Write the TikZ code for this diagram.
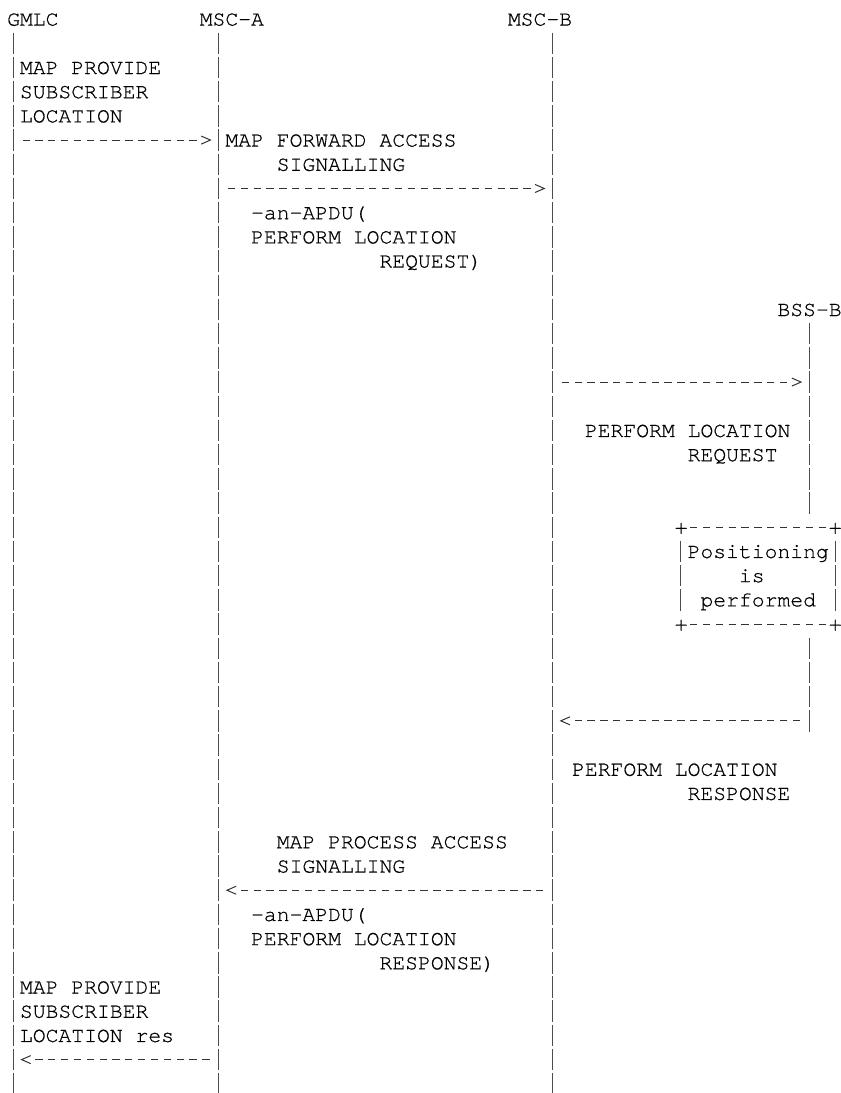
\documentclass[tikz,border=0pt]{standalone}
\usepackage{fontspec}
\newfontfamily\courierfont[FakeBold=0.6]{TeX Gyre Cursor}
\usetikzlibrary{calc}

\begin{document}
\begin{tikzpicture}[x=9.63pt, y=-18.15pt,
    lbl/.style={anchor=base west, inner sep=0pt, yshift=-4.9pt,
        font=\courierfont\fontsize{16.05}{18}\selectfont},
    bar/.style={draw=black!70, line width=0.75pt, dash pattern=on 16.1pt off 2.05pt,
        shorten <=-8.05pt, shorten >=-8.05pt},
    msg/.style={draw=black!80, line width=0.75pt, dash pattern=on 5.48pt off 4.15pt,
        shorten <=6.9pt, shorten >=16.53pt},
    boxedge/.style={msg, shorten >=6.9pt},
    head/.style={draw=black!80, line width=0.75pt, line join=miter}]

    % Frame (one unit = one character cell)
    \useasboundingbox (-1.036,-0.789) rectangle (64.46,44.38);

    % --- Entities ---
    \def\xg{0}   % GMLC
    \def\xa{16}  % MSC-A
    \def\xb{42}  % MSC-B
    \def\xs{62}  % BSS-B
    \node[lbl] (gmlc) at (-0.5,0) {GMLC};
    \node[lbl] (msca) at (14.5,0) {MSC-A};
    \node[lbl] (mscb) at (38.5,0) {MSC-B};
    \node[lbl] (bssb) at (59.5,12) {BSS-B};

    % --- Lifelines ---
    \coordinate (gmlc-top) at (\xg,1);  \coordinate (gmlc-end) at (\xg,44);
    \coordinate (msca-top) at (\xa,1);  \coordinate (msca-end) at (\xa,44);
    \coordinate (mscb-top) at (\xb,1);  \coordinate (mscb-end) at (\xb,44);
    \coordinate (bssb-top) at (\xs,13); \coordinate (bssb-20) at (\xs,20);
    \coordinate (bssb-26) at (\xs,26);  \coordinate (bssb-end) at (\xs,29);
    \draw[bar] (gmlc-top) -- (gmlc-end);
    \draw[bar] (msca-top) -- (msca-end);
    \draw[bar] (mscb-top) -- (mscb-end);
    \draw[bar] (bssb-top) -- (bssb-20);
    \draw[bar] (bssb-26) -- (bssb-end);

    % --- Message ends ---
    \coordinate (g5) at (\xg,5);   \coordinate (a5) at (\xa,5);
    \coordinate (a7) at (\xa,7);   \coordinate (b7) at (\xb,7);
    \coordinate (b15) at (\xb,15); \coordinate (s15) at (\xs,15);
    \coordinate (s29) at (\xs,29); \coordinate (b29) at (\xb,29);
    \coordinate (b36) at (\xb,36); \coordinate (a36) at (\xa,36);
    \coordinate (a43) at (\xa,43); \coordinate (g43) at (\xg,43);

    % --- MAP provide subscriber location ---
    \node[lbl] (psl1) at (0.5,2) {MAP PROVIDE};
    \node[lbl] (psl2) at (0.5,3) {SUBSCRIBER};
    \node[lbl] (psl3) at (0.5,4) {LOCATION};
    \draw[msg] (g5) -- (a5);
    \draw[head] ($(a5)!13.1pt!(g5)+(0,3pt)$) -- ($(a5)!6.2pt!(g5)$) -- ($(a5)!13.1pt!(g5)+(0,-3pt)$);

    % --- MAP forward access signalling ---
    \node[lbl] (fas1) at (16.5,5) {MAP FORWARD ACCESS};
    \node[lbl] (fas2) at (20.5,6) {SIGNALLING};
    \draw[msg] (a7) -- (b7);
    \draw[head] ($(b7)!13.1pt!(a7)+(0,3pt)$) -- ($(b7)!6.2pt!(a7)$) -- ($(b7)!13.1pt!(a7)+(0,-3pt)$);
    \node[lbl] (apdu1) at (18.5,8) {-an-APDU(};
    \node[lbl] (apdu2) at (18.5,9) {PERFORM LOCATION};
    \node[lbl] (apdu3) at (28.5,10) {REQUEST)};

    % --- Perform location request ---
    \draw[msg] (b15) -- (s15);
    \draw[head] ($(s15)!13.1pt!(b15)+(0,3pt)$) -- ($(s15)!6.2pt!(b15)$) -- ($(s15)!13.1pt!(b15)+(0,-3pt)$);
    \node[lbl] (plr1) at (44.5,17) {PERFORM LOCATION};
    \node[lbl] (plr2) at (52.5,18) {REQUEST};

    % --- Positioning box ---
    \coordinate (box-nw) at (52,21); \coordinate (box-ne) at (64,21);
    \coordinate (box-sw) at (52,25); \coordinate (box-se) at (64,25);
    \coordinate (box-wt) at (52,22); \coordinate (box-wb) at (52,24);
    \coordinate (box-et) at (64,22); \coordinate (box-eb) at (64,24);
    \draw[boxedge] (box-nw) -- (box-ne);
    \draw[boxedge] (box-sw) -- (box-se);
    \draw[bar] (box-wt) -- (box-wb);
    \draw[bar] (box-et) -- (box-eb);
    \node[lbl] (plus1) at (51.5,21) {+};
    \node[lbl] (plus2) at (63.5,21) {+};
    \node[lbl] (plus3) at (51.5,25) {+};
    \node[lbl] (plus4) at (63.5,25) {+};
    \node[lbl] (pos1) at (52.5,22) {Positioning};
    \node[lbl] (pos2) at (56.5,23) {is};
    \node[lbl] (pos3) at (53.5,24) {performed};

    % --- Perform location response ---
    \draw[msg] (s29) -- (b29);
    \draw[head] ($(b29)!13.1pt!(s29)+(0,3pt)$) -- ($(b29)!6.2pt!(s29)$) -- ($(b29)!13.1pt!(s29)+(0,-3pt)$);
    \node[lbl] (plp1) at (43.5,31) {PERFORM LOCATION};
    \node[lbl] (plp2) at (52.5,32) {RESPONSE};

    % --- MAP process access signalling ---
    \node[lbl] (pas1) at (20.5,34) {MAP PROCESS ACCESS};
    \node[lbl] (pas2) at (20.5,35) {SIGNALLING};
    \draw[msg] (b36) -- (a36);
    \draw[head] ($(a36)!13.1pt!(b36)+(0,3pt)$) -- ($(a36)!6.2pt!(b36)$) -- ($(a36)!13.1pt!(b36)+(0,-3pt)$);
    \node[lbl] (apdu4) at (18.5,37) {-an-APDU(};
    \node[lbl] (apdu5) at (18.5,38) {PERFORM LOCATION};
    \node[lbl] (apdu6) at (28.5,39) {RESPONSE)};

    % --- MAP provide subscriber location res ---
    \node[lbl] (res1) at (0.5,40) {MAP PROVIDE};
    \node[lbl] (res2) at (0.5,41) {SUBSCRIBER};
    \node[lbl] (res3) at (0.5,42) {LOCATION res};
    \draw[msg] (a43) -- (g43);
    \draw[head] ($(g43)!13.1pt!(a43)+(0,3pt)$) -- ($(g43)!6.2pt!(a43)$) -- ($(g43)!13.1pt!(a43)+(0,-3pt)$);
\end{tikzpicture}
\end{document}
